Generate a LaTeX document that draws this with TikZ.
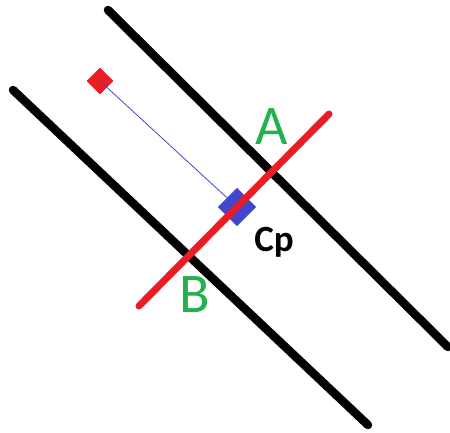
\documentclass[tikz,border=0pt]{standalone}
\usepackage{fontspec}
\setmainfont{Carlito}
\definecolor{paintred}{RGB}{237,28,36}
\definecolor{paintgreen}{RGB}{34,177,76}
\definecolor{paintblue}{RGB}{63,72,204}
\begin{document}
\begin{tikzpicture}[x=1pt,y=-1pt,line cap=round,
  wall/.style={line width=8.5pt,black},
  ptlabel/.style={font=\fontsize{56}{56}\selectfont,paintgreen}]
\useasboundingbox (0,0) rectangle (450,432);
\coordinate (U1) at (108,10);
\coordinate (U2) at (448,347);
\coordinate (L1) at (13,90);
\coordinate (L2) at (368,425);
\coordinate (R1) at (139,306);
\coordinate (R2) at (329,114);
\draw[wall] (U1) -- (U2);
\draw[wall] (L1) -- (L2);
\node[fill=paintred,rotate=45,minimum size=19pt,inner sep=0pt] (P) at (100,81) {};
\node[fill=paintblue,rotate=45,minimum size=27pt,inner sep=0pt] (Cp) at (237,207) {};
\draw[line width=7pt,paintred] (R1) -- (R2);
\draw[paintblue,line width=0.8pt] (P.center) -- (Cp);
% labels
\node[ptlabel] (labA) at (272,127) {A};
\node[ptlabel] (labB) at (195,295) {B};
\node[font=\bfseries\fontsize{37}{37}\selectfont] (labCp) at (274,242) {Cp};
\end{tikzpicture}
\end{document}
